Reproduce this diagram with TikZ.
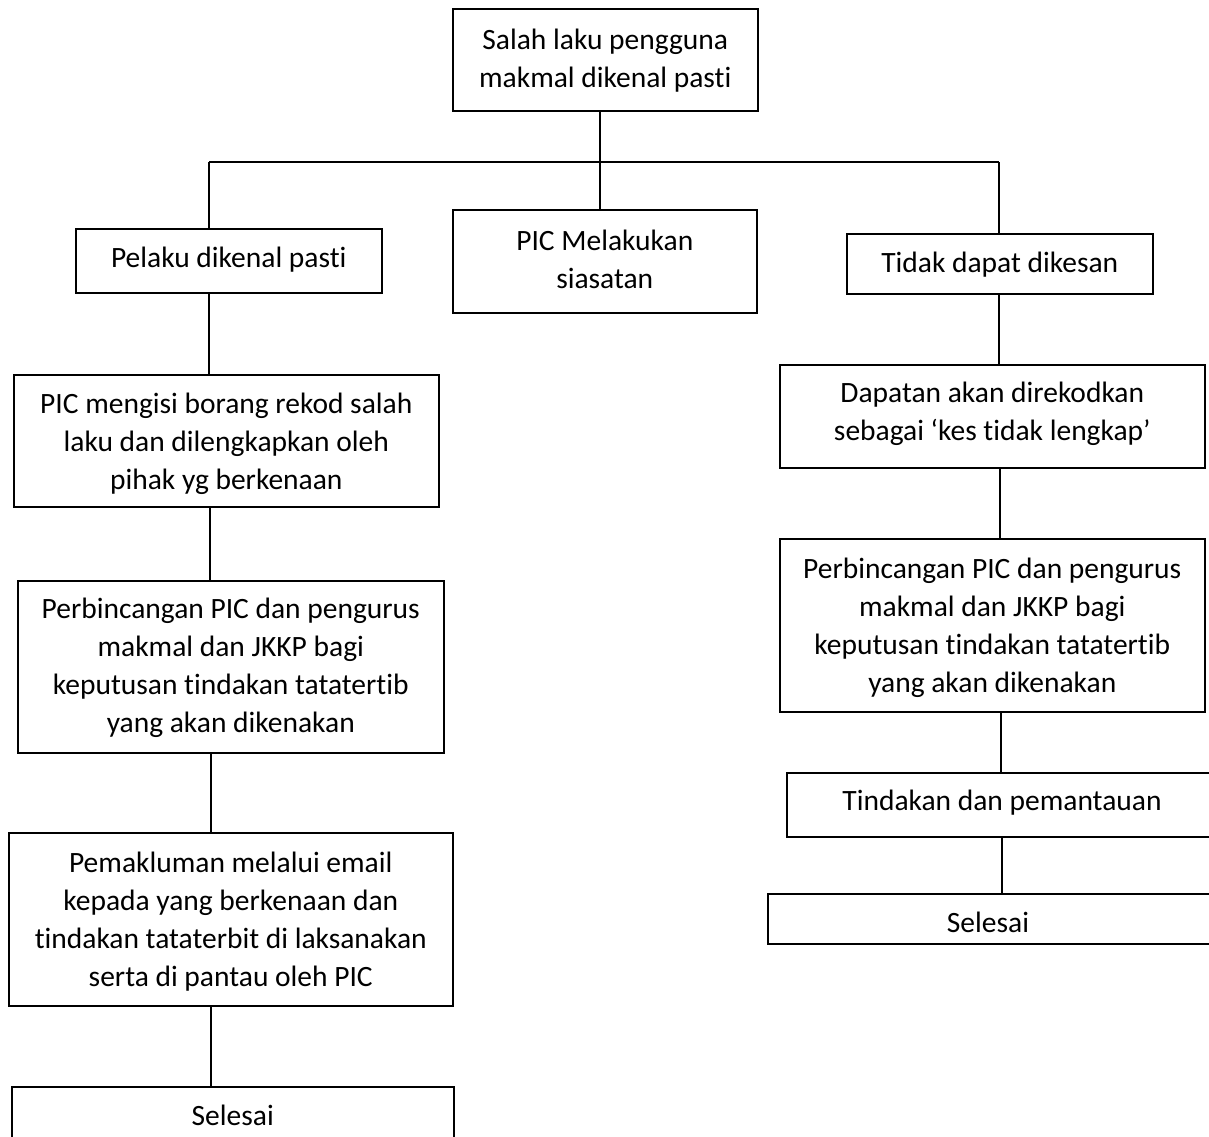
\documentclass[tikz,border=0pt]{standalone}
\usepackage{fontspec}
\setmainfont{Carlito}[Ligatures={NoCommon}]
\begin{document}
\begin{tikzpicture}[x=1pt,y=-1pt,
  box/.style={draw, line width=1.5pt, rectangle, inner sep=0pt, anchor=north west},
  txt/.style={inner sep=0pt, align=center, anchor=base, font=\fontsize{29.5pt}{38pt}\selectfont},
  conn/.style={line width=1.2pt}]
\useasboundingbox (0,0) rectangle (1209,1136);
% boxes
\node[box, minimum width=305pt, minimum height=102pt] (top) at (452,8) {};
\node[box, minimum width=306pt, minimum height=64pt] (pelaku) at (75,228) {};
\node[box, minimum width=304pt, minimum height=103pt] (picm) at (452,209) {};
\node[box, minimum width=306pt, minimum height=60pt] (tidak) at (846,233) {};
\node[box, minimum width=425pt, minimum height=132pt] (isi) at (13,374) {};
\node[box, minimum width=426pt, minimum height=172pt] (perbl) at (17,580) {};
\node[box, minimum width=444pt, minimum height=173pt] (maklum) at (8,832) {};
\node[box, minimum width=442pt, minimum height=80pt] (selesail) at (11,1086) {};
\node[box, minimum width=425pt, minimum height=103pt] (dapatan) at (779,364) {};
\node[box, minimum width=425pt, minimum height=173pt] (perbr) at (779,538) {};
\node[box, minimum width=440pt, minimum height=64pt] (tindakan) at (786,772) {};
\node[box, minimum width=460pt, minimum height=50pt] (selesair) at (767,893) {};
% texts (anchored at the baseline of the last line)
\node[txt] (topt) at ([yshift=-79pt]top.north) {Salah laku pengguna\\makmal dikenal pasti};
\node[txt] (pelakut) at ([yshift=-39pt]pelaku.north) {Pelaku dikenal pasti};
\node[txt] (picmt) at ([yshift=-79pt]picm.north) {PIC Melakukan\\siasatan};
\node[txt] (tidakt) at ([yshift=-39pt]tidak.north) {Tidak dapat dikesan};
\node[txt] (isit) at ([yshift=-115pt]isi.north) {PIC mengisi borang rekod salah\\laku dan dilengkapkan oleh\\pihak yg berkenaan};
\node[txt] (perblt) at ([yshift=-152pt]perbl.north) {Perbincangan PIC dan pengurus\\makmal dan JKKP bagi\\keputusan tindakan tatatertib\\yang akan dikenakan};
\node[txt] (maklumt) at ([yshift=-154pt]maklum.north) {Pemakluman melalui email\\kepada yang berkenaan dan\\tindakan tataterbit di laksanakan\\serta di pantau oleh PIC};
\node[txt] (selesailt) at ([yshift=-39pt]selesail.north) {Selesai};
\node[txt] (dapatant) at ([yshift=-76pt]dapatan.north) {Dapatan akan direkodkan\\sebagai ‘kes tidak lengkap’};
\node[txt] (perbrt) at ([yshift=-154pt]perbr.north) {Perbincangan PIC dan pengurus\\makmal dan JKKP bagi\\keputusan tindakan tatatertib\\yang akan dikenakan};
\node[txt] (tindakant) at (1002,810) {Tindakan dan pemantauan};
\node[txt] (selesairt) at (988,932) {Selesai};
% connectors
\coordinate (jl) at (209,162);
\coordinate (jr) at (999,162);
\coordinate (jm) at (600,162);
\coordinate (xl) at (210,0);
\coordinate (xr) at (1000,0);
\draw[conn] (jl) -- (jr);
\draw[conn] (jm |- top.south) -- (jm |- picm.north);
\draw[conn] (jl) -- (jl |- pelaku.north);
\draw[conn] (jr) -- (jr |- tidak.north);
\draw[conn] (jl |- pelaku.south) -- (jl |- isi.north);
\draw[conn] (xl |- isi.south) -- (xl |- perbl.north);
\draw[conn] ([xshift=1pt]xl |- perbl.south) -- ([xshift=1pt]xl |- maklum.north);
\draw[conn] ([xshift=1pt]xl |- maklum.south) -- ([xshift=1pt]xl |- selesail.north);
\draw[conn] (jr |- tidak.south) -- (jr |- dapatan.north);
\draw[conn] (xr |- dapatan.south) -- (xr |- perbr.north);
\draw[conn] ([xshift=1pt]xr |- perbr.south) -- ([xshift=1pt]xr |- tindakan.north);
\draw[conn] ([xshift=2pt]xr |- tindakan.south) -- ([xshift=2pt]xr |- selesair.north);
\end{tikzpicture}
\end{document}
